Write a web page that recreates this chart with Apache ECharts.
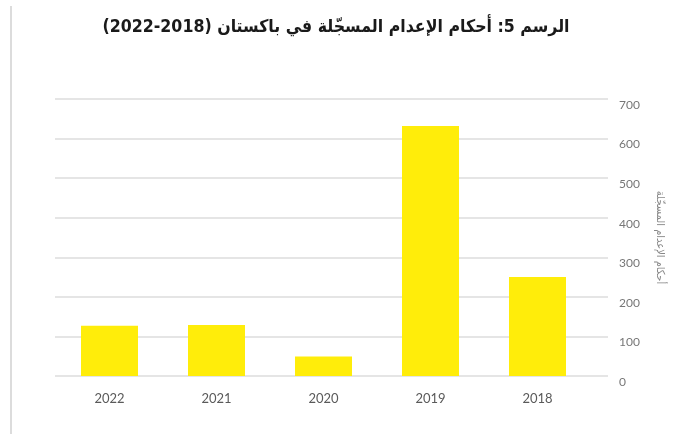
<!DOCTYPE html>
<html>
<head>
<meta charset="utf-8">
<script src="https://cdn.jsdelivr.net/npm/echarts@6/dist/echarts.min.js"></script>
<style>
html,body{margin:0;padding:0;background:#fff;}
#c{width:681px;height:436px;}
</style>
</head>
<body>
<div id="c"></div>
<script>
var titleText = 'الرسم 5: أحكام الإعدام المسجّلة في باكستان (2018-2022)';
var yAxisName = 'أحكام الإعدام المسجّلة';
var years = ['2018', '2019', '2020', '2021', '2022'];
var sentences = [250, 632, 49, 129, 127];
var yTicks = { min: 0, max: 700, interval: 100 };
var RLM = '\u200F';

var chart = echarts.init(document.getElementById('c'));
chart.setOption({
  animation: false,
  backgroundColor: '#fff',
  title: {
    text: RLM + titleText + RLM,
    left: 331, top: 13, textAlign: 'center',
    textStyle: { fontSize: 17.6, fontWeight: 'bold', color: '#1a1a1a', fontFamily: "'DejaVu Sans Condensed','DejaVu Sans',sans-serif" }
  },
  graphic: [{
    type: 'line', shape: { x1: 11, y1: 6, x2: 11, y2: 434 },
    style: { stroke: '#dcdcdc', lineWidth: 2 }
  }],
  grid: [
    { left: 55, right: 73, top: 99, bottom: 60 },
    { left: 56, width: 535, top: 99, bottom: 60 }
  ],
  xAxis: [
    { gridIndex: 0, type: 'value', min: 0, max: 1, show: false },
    {
      gridIndex: 1, type: 'category', data: years, inverse: true,
      axisLine: { show: false }, axisTick: { show: false },
      axisLabel: { color: '#5a5a5a', fontSize: 13, margin: 16, fontFamily: 'Lato, sans-serif' }
    }
  ],
  yAxis: [
    {
      gridIndex: 0, type: 'value', position: 'right',
      min: yTicks.min, max: yTicks.max, interval: yTicks.interval,
      axisLine: { show: false }, axisTick: { show: false },
      splitLine: { lineStyle: { color: '#dcdcdc', width: 1.5 } },
      axisLabel: { color: '#777', fontSize: 12, lineHeight: 12, verticalAlign: 'top', margin: 11, fontFamily: 'Lato, sans-serif' },
      name: RLM + yAxisName + RLM, nameLocation: 'middle', nameRotate: -90, nameGap: 46,
      nameTextStyle: { color: '#888', fontSize: 11, fontFamily: "'DejaVu Sans Condensed','DejaVu Sans',sans-serif" }
    },
    { gridIndex: 1, type: 'value', min: yTicks.min, max: yTicks.max, show: false }
  ],
  series: [{
    type: 'bar', xAxisIndex: 1, yAxisIndex: 1,
    data: sentences, barWidth: 57,
    itemStyle: { color: '#FFED0A' }
  }]
});
</script>
</body>
</html>
